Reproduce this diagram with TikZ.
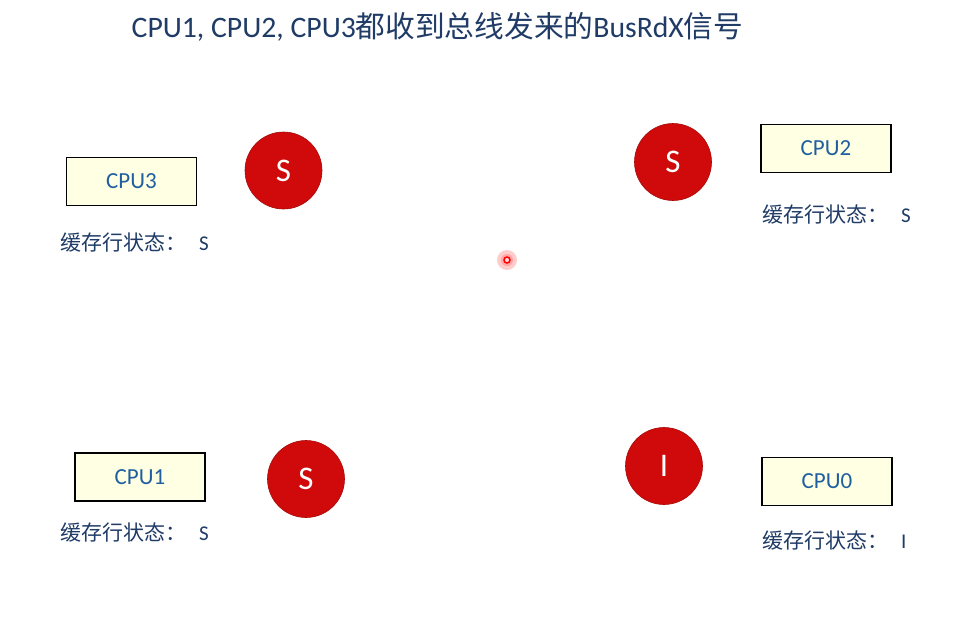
\documentclass[tikz,border=0pt]{standalone}
\usepackage{fontspec}
\setmainfont{Carlito}
\newfontfamily\cjk{Noto Sans CJK SC}
\definecolor{titleblue}{HTML}{1F3B66}
\definecolor{cpublue}{HTML}{1F5FA0}
\definecolor{boxfill}{HTML}{FFFFE3}
\definecolor{statered}{HTML}{D00A0A}
\definecolor{labelblue}{HTML}{1F3B66}
\begin{document}
\begin{tikzpicture}[x=1pt,y=-1pt,
  cpubox/.style={draw=black,line width=1.3pt,fill=boxfill,minimum width=130pt,minimum height=48pt,text=cpublue,font=\fontsize{23}{24}\selectfont,inner sep=0pt},
  statecircle/.style={circle,fill=statered,draw=statered!80!black,line width=0.6pt,minimum size=77pt,inner sep=0pt,text=white,font=\fontsize{33}{34}\selectfont},
  cachelabel/.style={anchor=west,text=labelblue,font=\fontsize{21}{22}\selectfont,inner sep=0pt}]
\useasboundingbox (0,0) rectangle (957,627);
\fill[white] (0,0) rectangle (957,627);
\node[text=titleblue,font=\fontsize{29.7}{31}\selectfont,inner sep=0pt] (title) at (437.5,27) {CPU1, CPU2, CPU3{\cjk 都收到总线发来的}BusRdX{\cjk 信号}};
% CPU3
\node[cpubox] (cpu3) at (131.5,181.5) {CPU3};
\node[statecircle] (s3) at (283.5,170.5) {S};
\node[cachelabel] (l3) at (60,243) {{\cjk 缓存行状态：}\hspace{13pt}S};
% CPU2
\node[cpubox] (cpu2) at (826,148.5) {CPU2};
\node[statecircle] (s2) at (673,162) {S};
\node[cachelabel] (l2) at (762,215) {{\cjk 缓存行状态：}\hspace{13pt}S};
% CPU1
\node[cpubox] (cpu1) at (140,477) {CPU1};
\node[statecircle] (s1) at (306,479) {S};
\node[cachelabel] (l1) at (60,532) {{\cjk 缓存行状态：}\hspace{13pt}S};
% CPU0
\node[cpubox] (cpu0) at (827,481.5) {CPU0};
\node[statecircle] (s0) at (664,466) {I};
\node[cachelabel] (l0) at (762,540) {{\cjk 缓存行状态：}\hspace{13pt}I};
% pointer dot
\fill[red!20] (507,260) circle (10pt);
\fill[red!35] (507,260) circle (6pt);
\draw[red,line width=1.5pt,fill=red!15] (507,260) circle (3pt) coordinate (dot);
\end{tikzpicture}
\end{document}
